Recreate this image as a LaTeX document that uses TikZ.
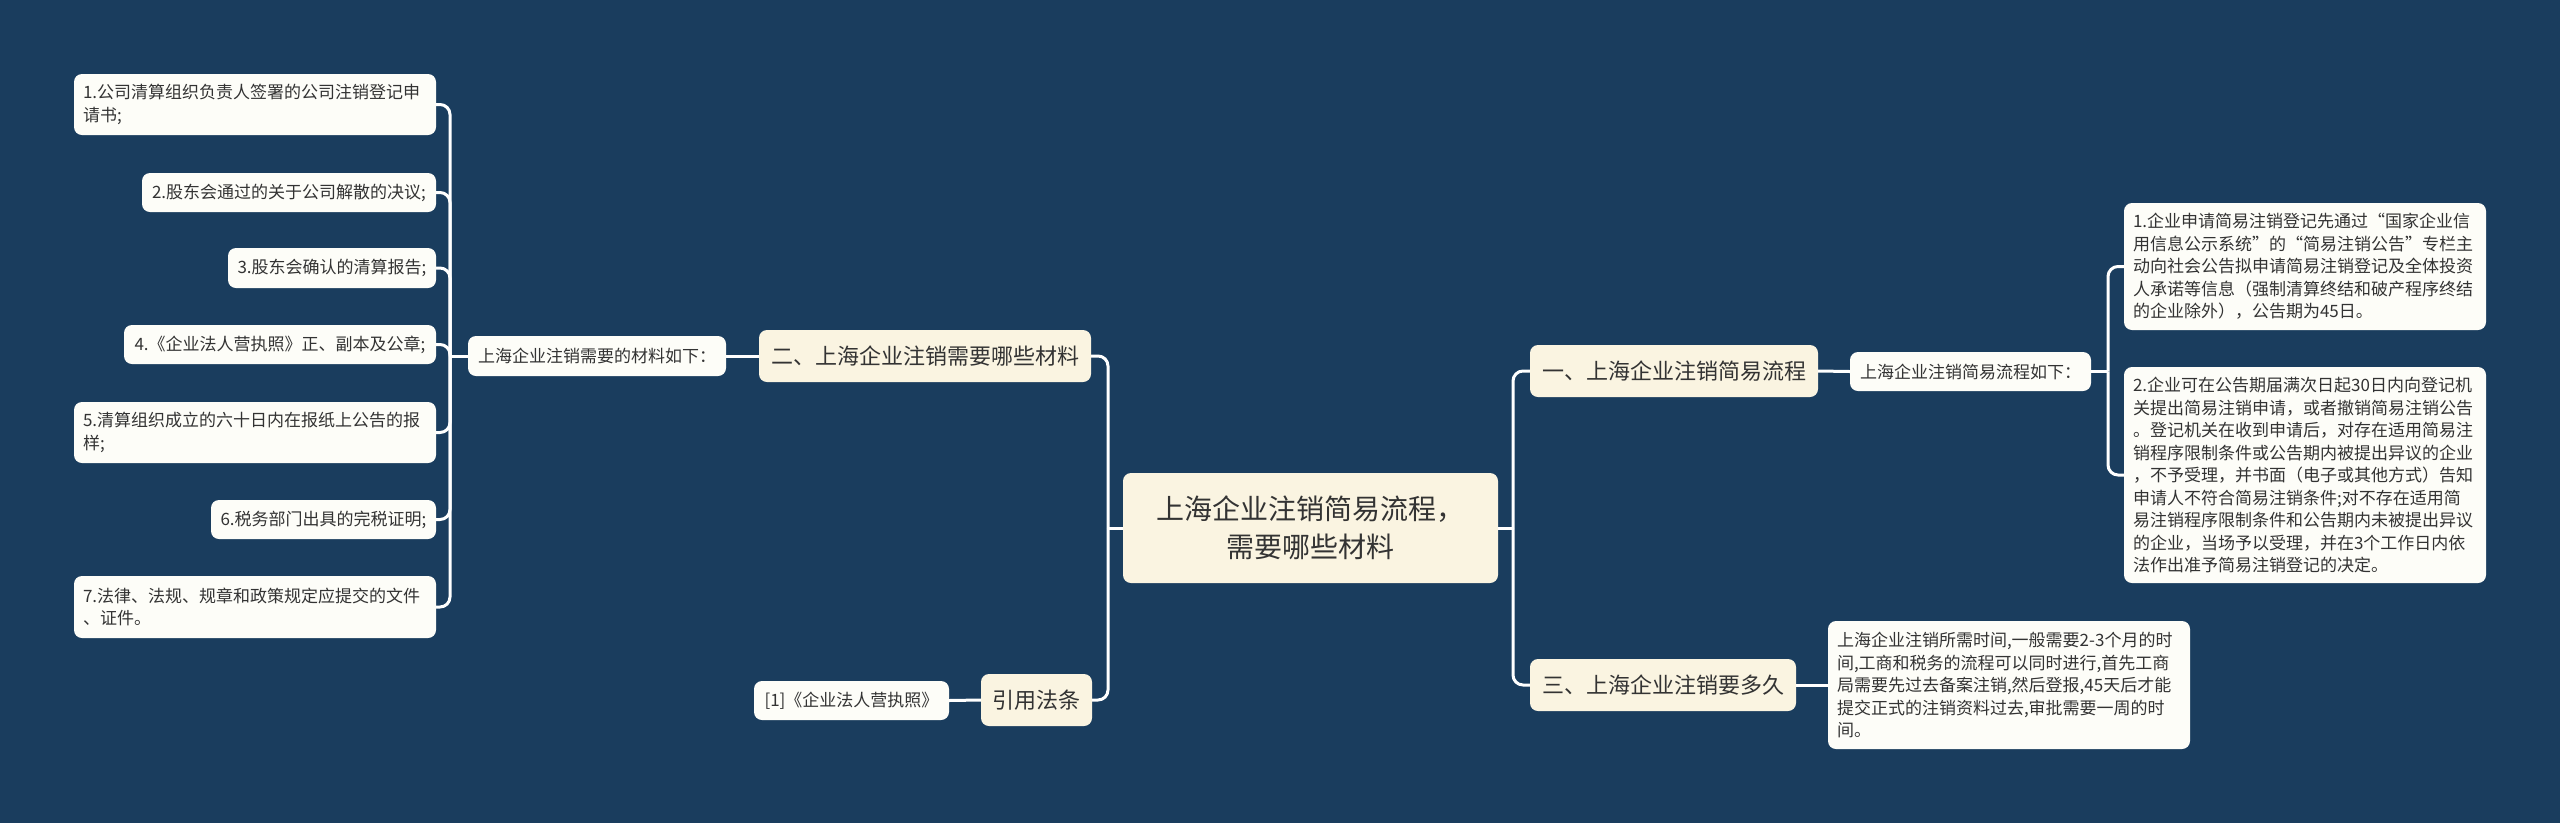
\documentclass[tikz,border=0pt]{standalone}
\usepackage{fontspec}
\setmainfont{Noto Sans CJK SC}
\definecolor{bg}{HTML}{1A3D5E}
\definecolor{mainfill}{HTML}{FAF4E1}
\definecolor{leaffill}{HTML}{FDFDF8}
\definecolor{txt}{HTML}{333333}
\tikzset{
  box/.style={rounded corners=8pt, inner sep=0pt, text=txt, anchor=center},
  mainbox/.style={box, fill=mainfill, font=\fontsize{22}{28}\selectfont},
  leafbox/.style={box, fill=leaffill, font=\fontsize{17}{22.5}\selectfont},
  parabox/.style={leafbox, text width=344pt, inner xsep=9pt, align=left},
  conn/.style={draw=white, line width=3pt},
  bendconn/.style={conn, rounded corners=10pt},
}
\begin{document}
\begin{tikzpicture}[x=1pt,y=-1pt]
\fill[bg] (0,0) rectangle (2560,823);
\useasboundingbox (0,0) rectangle (2560,823);

% root
\node[mainbox, minimum width=375pt, minimum height=110pt, align=center,
      font=\fontsize{28}{38}\selectfont] (root) at (1310.5,528) {上海企业注销简易流程，\\需要哪些材料};

% main branches
\node[mainbox, minimum width=288pt, minimum height=52pt] (n1) at (1674,371) {一、上海企业注销简易流程};
\node[mainbox, minimum width=332pt, minimum height=52pt] (n2) at (925,356) {二、上海企业注销需要哪些材料};
\node[mainbox, minimum width=266pt, minimum height=52pt] (n3) at (1663,685) {三、上海企业注销要多久};
\node[mainbox, minimum width=111pt, minimum height=52pt] (n4) at (1036.5,700) {引用法条};

% right side
\node[leafbox, minimum width=241pt, minimum height=39pt] (s1) at (1970.5,371.5) {上海企业注销简易流程如下：};
\node[parabox, minimum height=127pt] (r1) at (2305,266.5) {1.企业申请简易注销登记先通过“国家企业信\\用信息公示系统”的“简易注销公告”专栏主\\动向社会公告拟申请简易注销登记及全体投资\\人承诺等信息（强制清算终结和破产程序终结\\的企业除外），公告期为45日。};
\node[parabox, minimum height=216pt] (r2) at (2305,475) {2.企业可在公告期届满次日起30日内向登记机\\关提出简易注销申请，或者撤销简易注销公告\\。登记机关在收到申请后，对存在适用简易注\\销程序限制条件或公告期内被提出异议的企业\\，不予受理，并书面（电子或其他方式）告知\\申请人不符合简易注销条件;对不存在适用简\\易注销程序限制条件和公告期内未被提出异议\\的企业，当场予以受理，并在3个工作日内依\\法作出准予简易注销登记的决定。};
\node[parabox, minimum height=128pt] (t3) at (2009,685) {上海企业注销所需时间,一般需要2-3个月的时\\间,工商和税务的流程可以同时进行,首先工商\\局需要先过去备案注销,然后登报,45天后才能\\提交正式的注销资料过去,审批需要一周的时\\间。};

% left side
\node[leafbox, minimum width=258pt, minimum height=40pt] (m) at (597,356) {上海企业注销需要的材料如下：};
\node[leafbox, minimum width=195pt, minimum height=39pt] (cite) at (851.5,700.5) {[1]《企业法人营执照》};

\node[parabox, minimum height=61pt] (l1) at (255,104.5) {1.公司清算组织负责人签署的公司注销登记申\\请书;};
\node[leafbox, minimum width=294pt, minimum height=39pt] (l2) at (289,192.5) {2.股东会通过的关于公司解散的决议;};
\node[leafbox, minimum width=208pt, minimum height=40pt] (l3) at (332,268) {3.股东会确认的清算报告;};
\node[leafbox, minimum width=312pt, minimum height=39pt] (l4) at (280,344.5) {4.《企业法人营执照》正、副本及公章;};
\node[parabox, minimum height=61pt] (l5) at (255,432.5) {5.清算组织成立的六十日内在报纸上公告的报\\样;};
\node[leafbox, minimum width=225pt, minimum height=39pt] (l6) at (323.5,519.5) {6.税务部门出具的完税证明;};
\node[parabox, minimum height=62pt] (l7) at (255,607) {7.法律、法规、规章和政策规定应提交的文件\\、证件。};

% buses
\coordinate (busR) at (1513,528);
\coordinate (busM) at (1108,528);
\coordinate (busS) at (2108,371.5);
\coordinate (busL) at (450,356);

% connectors
\draw[conn] (root.east) -- (busR);
\draw[bendconn] (busR) |- (n1.west);
\draw[bendconn] (busR) |- (n3.west);
\draw[conn] (root.west) -- (busM);
\draw[bendconn] (busM) |- (n2.east);
\draw[bendconn] (busM) |- (n4.east);

\draw[conn] (n1.east) -- (s1.west);
\draw[conn] (s1.east) -- (busS);
\draw[bendconn] (busS) |- (r1.west);
\draw[bendconn] (busS) |- (r2.west);
\draw[conn] (n3.east) -- (t3.west);

\draw[conn] (n2.west) -- (m.east);
\draw[conn] (n4.west) -- (cite.east);
\draw[conn] (m.west) -- (busL);
\foreach \n in {l1,l2,l3,l4,l5,l6,l7}{
  \draw[bendconn] (busL) |- (\n.east);
}
\end{tikzpicture}
\end{document}
